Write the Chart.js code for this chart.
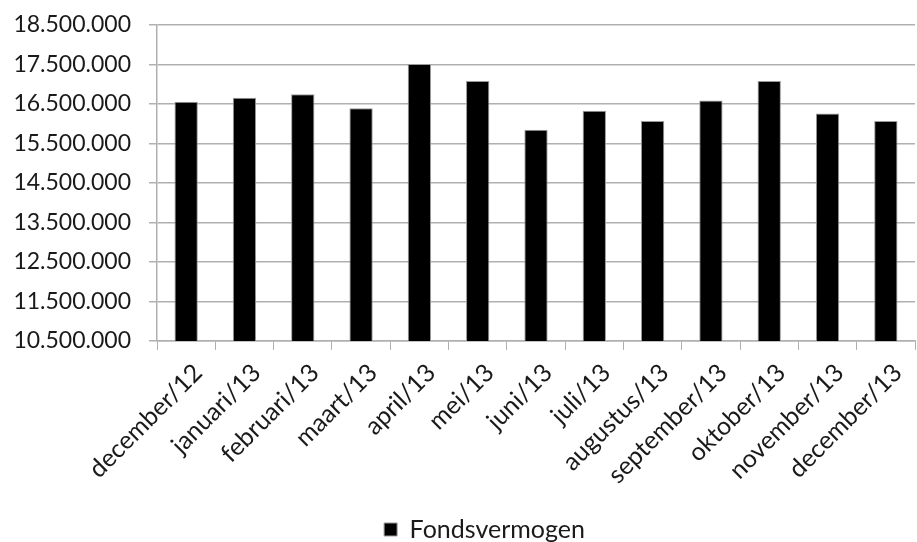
<!DOCTYPE html>
<html>
<head>
<meta charset="utf-8">
<script src="https://cdn.jsdelivr.net/npm/chart.js@4.4.1/dist/chart.umd.min.js"></script>
<style>
  html, body { margin: 0; padding: 0; background: #ffffff; }
  #wrap { width: 917px; height: 542px; position: relative; }
</style>
</head>
<body>
<div id="wrap"><canvas id="chart"></canvas></div>
<script>
// Maandelijks fondsvermogen (euro)
const months = [
  'december/12', 'januari/13', 'februari/13', 'maart/13', 'april/13', 'mei/13',
  'juni/13', 'juli/13', 'augustus/13', 'september/13', 'oktober/13', 'november/13', 'december/13'
];
const fondsvermogen = [
  16560000, 16660000, 16750000, 16390000, 17510000, 17080000,
  15850000, 16330000, 16070000, 16590000, 17080000, 16260000, 16070000
];
const seriesName = 'Fondsvermogen';
const yMin = 10500000;
const yMax = 18500000;
const yStep = 1000000;

// Dutch thousands separator
function formatNL(v) {
  return String(Math.round(v)).replace(/\B(?=(\d{3})+(?!\d))/g, '.');
}

const FONT = 'Lato, "Open Sans", sans-serif';
const GRID = '#b0b0b0';

// Legend sits slightly right of the canvas centre: shift its box before drawing
const legendShift = {
  id: 'legendShift',
  afterLayout(chart) {
    const lg = chart.legend;
    if (!lg) return;
    lg.left += 25;
    lg.right += 25;
  }
};

new Chart(document.getElementById('chart'), {
  type: 'bar',
  data: {
    labels: months,
    datasets: [{
      label: seriesName,
      data: fondsvermogen,
      backgroundColor: '#000000',
      borderColor: '#9a9a9a',
      borderWidth: 1,
      barPercentage: 0.4,
      categoryPercentage: 1.0
    }]
  },
  plugins: [legendShift],
  options: {
    responsive: true,
    maintainAspectRatio: false,
    animation: false,
    layout: { padding: { top: 25, right: 2, left: 4, bottom: -10 } },
    plugins: {
      tooltip: { enabled: false },
      legend: {
        position: 'bottom',
        labels: {
          color: '#1a1a1a',
          font: { family: FONT, size: 25 },
          boxWidth: 13,
          boxHeight: 13,
          padding: 1
        }
      }
    },
    scales: {
      x: {
        grid: {
          display: true,
          drawOnChartArea: false,
          drawTicks: true,
          tickLength: 9,
          color: GRID,
          offset: true
        },
        border: { display: true, color: GRID, width: 1.5 },
        ticks: {
          color: '#1a1a1a',
          font: { family: FONT, size: 25 },
          minRotation: 45,
          maxRotation: 45,
          autoSkip: false,
          padding: 8,
          labelOffset: 12
        },
        afterFit(scale) { scale.height = 175; }
      },
      y: {
        min: yMin,
        max: yMax,
        grid: {
          color: GRID,
          lineWidth: 1.5,
          drawTicks: true,
          tickLength: 8
        },
        border: { display: true, color: GRID, width: 1.5 },
        ticks: {
          stepSize: yStep,
          color: '#1a1a1a',
          font: { family: FONT, size: 23 },
          padding: 18,
          callback: (v) => formatNL(v)
        },
        afterFit(scale) {
          scale.width = 153;
          scale.paddingTop = 0;
          scale.paddingBottom = 0;
        }
      }
    }
  }
});
</script>
</body>
</html>
